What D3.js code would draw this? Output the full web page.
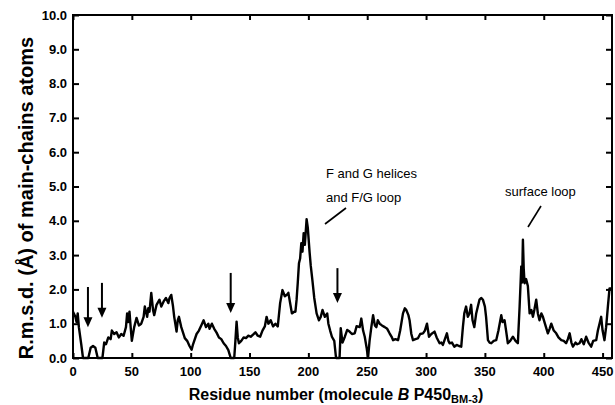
<!DOCTYPE html>
<html>
<head>
<meta charset="utf-8">
<script src="https://cdn.jsdelivr.net/npm/d3@7"></script>
<style>
body{margin:0;background:#fff;}
svg{display:block;font-family:"Liberation Sans",Arial,Helvetica,sans-serif;}
</style>
</head>
<body>
<div id="chart"></div>
<script>
// residue number and r.m.s.d. (A)
var residues=[0,2,3,4,5,7,8.5,13,15,17,19,21,25,26.5,28,30,32,33,35,37,39,41,43,45,46,47,48,49,50,52,54,56,58,60,61,63,64,65,66.5,68,69,71,73.5,75,77,79,81,82,83.5,85,86,88,89,90,92,95,97,99,100.8,102,105,107,109,111,113,115,116,118,120,122,124,126,128,130,132,134,137,138,139,140,141,143,145,147,149,151,153,155,157,159,161,163,164.5,166,168,170,172,174,176,178,180,182,183,185,186,188,189,190,191,192,193,194,195,196,197,198.5,199.5,201,202,203.5,205,207,209,210.5,212,214,216,217,218.5,220,222,223.5,226.5,227.5,229,231,233,235,237,239.4,241,243.6,245,246.5,247.9,249.5,250.7,252,253.5,255,256.5,257.8,259,260.6,262.5,264.9,267,269,271,272,274,276.2,278,280.4,282,283.2,285,286,287.5,288.9,291,293,295,297.4,299,300.8,302.5,304.5,307.2,309,311.5,313,314.3,316,317.7,319,320,322,324,326,328,329.9,331.3,332.5,334,335.5,336.9,338.3,339.5,341,342.6,344,345.4,347,348.3,350,351,352.6,354,355.4,357.5,359.6,361.5,363.9,365,366.7,368,369.5,371.5,373.8,376,378,379.5,380.9,381.6,382.3,383,383.7,385,386.5,388,389.5,390.8,392,393.6,395,396.4,398,399.3,401,403.5,405,406.4,408.5,410.6,412.5,414.9,417,419,420.5,422,423.5,424.8,427,428.5,430.4,432,434,436,438,440.3,442,444.6,446,447.4,448.8,450,451.6,453,454.5,455.9,457.6];
var rmsd=[1.35,1.2,1.05,1.3,0.9,0.4,0,0,0.3,0.35,0.3,0,0,0.45,0.4,0.6,0.55,0.8,0.7,0.75,0.6,0.7,0.65,0.9,1.3,1.05,1.35,0.9,0.5,0.9,1.17,0.95,1.0,1.2,1.5,1.2,1.45,1.35,1.9,1.4,1.25,1.55,1.7,1.5,1.65,1.75,1.6,1.75,1.84,1.5,1.2,0.77,1.1,1.2,0.9,0.58,0.5,0.35,0.24,0.4,0.7,0.8,0.95,1.1,0.9,1.0,0.85,1.0,0.85,0.74,0.6,0.55,0.43,0.35,0.23,0,0,0.5,1.06,0.6,0.43,0.5,0.6,0.58,0.65,0.62,0.68,0.75,0.65,0.62,0.8,0.92,1.2,1.0,1.1,0.92,1.0,0.92,1.6,1.98,1.8,1.85,1.9,1.5,1.3,1.35,1.35,1.7,2.2,2.76,2.9,3.35,3.1,3.64,3.3,4.05,3.8,3.1,2.7,2.24,1.75,1.3,1.1,1.2,1.4,1.2,1.3,1.0,0.8,0.62,0.5,0,0,0.87,0.45,0.62,0.82,0.77,0.7,0.72,0.93,0.9,1.15,0.8,0.62,0.3,0,0.5,0.9,1.25,0.95,0.9,1.1,1.0,0.95,0.9,0.85,0.72,0.6,0.52,0.55,0.52,0.8,1.3,1.45,1.4,1.25,1.1,0.7,0.52,0.55,0.57,0.7,0.72,0.8,1.0,0.62,0.7,0.77,0.6,0.43,0.45,0.38,0.55,0.72,0.5,0.43,0.45,0.33,0.38,0.35,0.33,0.9,1.3,1.5,1.2,1.3,1.55,1.1,0.9,1.3,1.5,1.7,1.75,1.7,1.5,1.2,0.52,0.45,0.43,0.5,0.52,0.8,1.25,1.05,1.1,0.8,0.43,0.5,0.62,0.5,0.43,1.5,2.67,2.2,3.45,2.6,2.18,2.3,2.1,1.3,1.4,1.2,1.4,1.7,1.3,1.1,1.3,1.2,1.0,0.72,0.85,1.0,0.8,0.72,0.6,0.52,0.5,0.43,0.55,0.72,0.45,0.33,0.45,0.4,0.43,0.55,0.4,0.62,0.45,0.33,0.5,0.52,0.8,1.0,1.2,0.8,0.52,0.9,1.5,2.03,2.03];
// arrows: residue, top and tip value
var arrowRes=[12.7,24.6,134,224.7];
var arrowTop=[2.07,2.19,2.48,2.62];
var arrowTip=[0.9,1.17,1.31,1.6];
var xTicks=[0,50,100,150,200,250,300,350,400,450];
var yTicks=[0,1,2,3,4,5,6,7,8,9,10];

var width=615,height=405;
var svg=d3.select("#chart").append("svg")
    .attr("width",width)
    .attr("height",height);

var x=d3.scaleLinear().domain([0,458]).range([73,612]);
var y=d3.scaleLinear().domain([0,10]).range([358,15]);

// axes, ticks drawn inward
svg.append("g").attr("transform","translate(73,0)")
    .call(d3.axisRight(y).tickValues(yTicks).tickSize(6).tickFormat(""));
svg.append("g").attr("transform","translate(612,0)")
    .call(d3.axisLeft(y).tickValues(yTicks).tickSize(6).tickFormat(""));
svg.append("g").attr("transform","translate(0,358)")
    .call(d3.axisTop(x).tickValues(xTicks).tickSize(5).tickFormat(""));
svg.append("g").attr("transform","translate(0,15)")
    .call(d3.axisBottom(x).tickValues(xTicks).tickSize(5).tickFormat(""));
svg.selectAll(".domain").remove();
svg.selectAll(".tick line").attr("stroke","#000").attr("stroke-width",2);

svg.append("rect")
    .attr("x",73).attr("y",15)
    .attr("width",612-73).attr("height",358-15)
    .attr("fill","none").attr("stroke","#000").attr("stroke-width",2);

// tick labels
svg.append("g").selectAll("text").data(yTicks).enter().append("text")
    .attr("x",67)
    .attr("y",function(d){return y(d)+4.5})
    .attr("text-anchor","end")
    .style("font-size","13px").style("font-weight","bold")
    .text(function(d){return d.toFixed(1)});
svg.append("g").selectAll("text").data(xTicks).enter().append("text")
    .attr("x",function(d){return x(d)})
    .attr("y",376)
    .attr("text-anchor","middle")
    .style("font-size","13px").style("font-weight","bold")
    .text(function(d){return d});

// the curve
var pts=residues.map(function(r,i){return [r,rmsd[i]]});
var line=d3.line()
    .x(function(d){return x(d[0])})
    .y(function(d){return y(d[1])});
svg.append("path")
    .datum(pts)
    .attr("d",line)
    .attr("fill","none")
    .attr("stroke","#000")
    .attr("stroke-width",2.4)
    .attr("stroke-linejoin","round");

// arrows
arrowRes.forEach(function(r,i){
    var ax=x(r),y0=y(arrowTop[i]),y1=y(arrowTip[i]);
    svg.append("line")
        .attr("x1",ax).attr("x2",ax)
        .attr("y1",y0).attr("y2",y1-8)
        .attr("stroke","#000").attr("stroke-width",2);
    svg.append("path")
        .attr("d","M"+(ax-4.5)+","+(y1-10)+"L"+(ax+4.5)+","+(y1-10)+"L"+ax+","+y1+"Z")
        .attr("fill","#000");
});

// annotations
var note=svg.append("g").style("font-size","13px");
note.append("text").attr("x",326).attr("y",178).text("F and G helices");
note.append("text").attr("x",326).attr("y",202).text("and F/G loop");
note.append("line").attr("x1",325).attr("y1",224).attr("x2",346).attr("y2",208)
    .attr("stroke","#000").attr("stroke-width",1.6);
note.append("text").attr("x",505).attr("y",196).text("surface loop");
note.append("line").attr("x1",528).attr("y1",227).attr("x2",541).attr("y2",206)
    .attr("stroke","#000").attr("stroke-width",1.6);

// axis titles
var xt=svg.append("text")
    .attr("x",336).attr("y",400)
    .attr("text-anchor","middle")
    .style("font-size","16px").style("font-weight","bold");
xt.append("tspan").text("Residue number (molecule ");
xt.append("tspan").style("font-style","italic").text("B");
xt.append("tspan").text(" P450");
xt.append("tspan").attr("dy",3).style("font-size","11px").text("BM-3");
xt.append("tspan").attr("dy",-3).text(")");

svg.append("text")
    .attr("transform","translate(33,198) rotate(-90)")
    .attr("text-anchor","middle")
    .style("font-size","20px").style("font-weight","bold")
    .text("R.m.s.d. (Å) of main-chains atoms");
</script>
</body>
</html>
